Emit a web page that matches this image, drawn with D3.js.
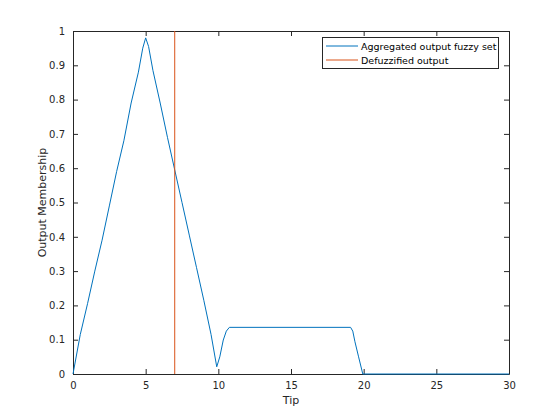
<!DOCTYPE html>
<html><head><meta charset="utf-8">
<script src="https://cdn.jsdelivr.net/npm/d3@7"></script>
<style>body{margin:0;background:#fff}svg{display:block}text{font-family:"DejaVu Sans",sans-serif}</style>
</head><body><svg id="c" width="560" height="420"></svg>
<script>
const aggX = [0,0.5,1,1.5,2,2.5,3,3.5,4,4.5,4.8,5,5.2,5.5,6,6.5,7,7.5,8,8.5,9,9.5,9.89,10.1,10.34,10.55,10.76,19.1,19.25,19.4,19.65,19.94,30];
const aggY = [0,0.115,0.205,0.3,0.39,0.49,0.59,0.68,0.79,0.88,0.95,0.98,0.955,0.885,0.79,0.69,0.595,0.5,0.405,0.31,0.215,0.115,0.021,0.05,0.099,0.125,0.136,0.136,0.125,0.094,0.05,0,0];
const defuzzX = 7.0;
const xTicks = [0,5,10,15,20,25,30];
const yTicks = [0,0.1,0.2,0.3,0.4,0.5,0.6,0.7,0.8,0.9,1];
const legendLabels = ["Aggregated output fuzzy set","Defuzzified output"];
const colors = ["#0072BD","#D95319"];

const L=73,R=509,T=31,B=374;
const svg=d3.select("#c");
const x=d3.scaleLinear().domain([0,30]).range([L,R]);
const y=d3.scaleLinear().domain([0,1]).range([B,T]);
const axCol="#262626";

function styleAxis(g){g.select(".domain").attr("stroke",axCol);g.selectAll(".tick line").attr("stroke",axCol);g.selectAll("text").attr("fill",axCol).attr("font-size",10);}
svg.append("g").attr("transform",`translate(0,${B})`).call(d3.axisBottom(x).tickValues(xTicks).tickSizeInner(-5).tickSizeOuter(0).tickPadding(8).tickFormat(d3.format("d"))).call(styleAxis);
svg.append("g").attr("transform",`translate(0,${T})`).call(d3.axisTop(x).tickValues(xTicks).tickSizeInner(-5).tickSizeOuter(0).tickFormat("")).call(styleAxis);
svg.append("g").attr("transform",`translate(${L},0)`).call(d3.axisLeft(y).tickValues(yTicks).tickSizeInner(-5).tickSizeOuter(0).tickPadding(8).tickFormat(d=>d3.format("~g")(d))).call(styleAxis);
svg.append("g").attr("transform",`translate(${R},0)`).call(d3.axisRight(y).tickValues(yTicks).tickSizeInner(-5).tickSizeOuter(0).tickFormat("")).call(styleAxis);

const data=aggX.map((v,i)=>[v,aggY[i]]);
svg.append("path").datum(data).attr("fill","none").attr("stroke",colors[0]).attr("stroke-width",1)
 .attr("d",d3.line().x(d=>x(d[0])).y(d=>y(d[1])));
svg.append("line").attr("x1",x(defuzzX)).attr("x2",x(defuzzX)).attr("y1",y(0)).attr("y2",y(1)).attr("stroke",colors[1]).attr("stroke-width",1);

svg.append("text").attr("x",(L+R)/2).attr("y",404).attr("text-anchor","middle").attr("font-size",11).attr("fill",axCol).text("Tip");
svg.append("text").attr("transform",`translate(46,${(T+B)/2}) rotate(-90)`).attr("text-anchor","middle").attr("font-size",11).attr("fill",axCol).text("Output Membership");

const lg=svg.append("g");
lg.append("rect").attr("x",322.5).attr("y",37.5).attr("width",176).attr("height",31).attr("fill","#fff").attr("stroke",axCol).attr("stroke-width",1);
legendLabels.forEach((t,i)=>{
  const yy=46+i*14;
  lg.append("line").attr("x1",326).attr("x2",358).attr("y1",yy).attr("y2",yy).attr("stroke",colors[i]);
  lg.append("text").attr("x",361).attr("y",yy+3.5).attr("font-size",9.5).attr("fill","#000").text(t);
});
</script></body></html>
